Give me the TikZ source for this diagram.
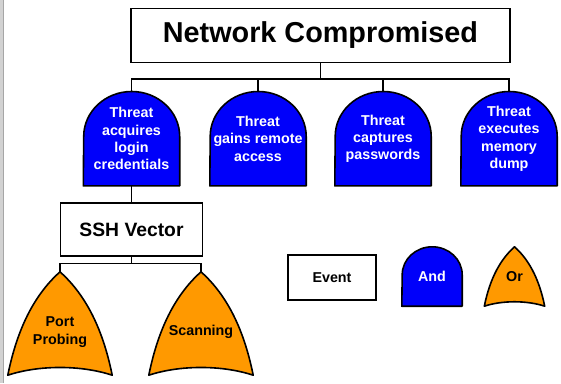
\documentclass[tikz,border=0pt]{standalone}
\usepackage{fontspec}
\setmainfont{Liberation Sans}
\usetikzlibrary{calc,backgrounds}
\definecolor{andblue}{RGB}{0,0,250}
\definecolor{ororange}{RGB}{255,153,0}
\tikzset{
  conn/.style={line width=1.4pt},
  gateline/.style={line width=1.6pt, line join=round},
  eventbox/.style={draw, line width=1.6pt, fill=white, inner sep=0pt, font=\fontsize{14.3}{17.3}\selectfont\bfseries},
  gatetext/.style={inner sep=0pt, align=center, font=\fontsize{14.3}{17.3}\selectfont\bfseries},
  andgate/.style={gatetext, text=white, minimum width=96pt, minimum height=94pt},
  orgate/.style={gatetext, minimum width=104pt, minimum height=103pt},
}
\begin{document}
\begin{tikzpicture}[x=1pt,y=1pt]
\useasboundingbox (0,0) rectangle (561,383);
\fill[gray!35] (0,0) rectangle (3.3,383);
\draw[gray!70, line width=0.7pt] (3.6,0) -- (3.6,383);

\node[eventbox, minimum width=379pt, minimum height=54pt, font=\fontsize{28.8}{32}\selectfont\bfseries] (top) at (320.5,347.5) {Network Compromised};
\node[andgate] (g1) at (131.5,244.3) {Threat\\acquires\\login\\credentials};
\node[andgate] (g2) at (258,244.3) {Threat\\gains remote\\access};
\node[andgate] (g3) at (383,244.3) {Threat\\captures\\passwords};
\node[andgate] (g4) at (509,244.3) {Threat\\executes\\memory\\dump};
\node[eventbox, minimum width=142pt, minimum height=53pt, font=\fontsize{19.3}{23}\selectfont\bfseries] (ssh) at (131.5,153.5) {SSH Vector};
\node[orgate] (p1) at (60,59.5) {};
\node[orgate] (p2) at (201,59.5) {};
\node[gatetext] (p1txt) at (60,51) {Port\\Probing};
\node[gatetext] (p2txt) at (201,51) {Scanning};

\node[eventbox, minimum width=88pt, minimum height=45pt] (legevent) at (332,105.5) {Event};
\node[andgate, minimum width=60pt, minimum height=59pt] (legand) at (432,106.5) {And};
\node[orgate, minimum width=60pt, minimum height=59pt] (legor) at (514.5,106.5) {Or};

\coordinate (bar1) at ([yshift=-15.6]top.south);
\foreach \g in {g1,g2,g3,g4} \draw[conn] (top.south) -- (bar1) -| (\g.north);
\draw[conn] (g1.south) -- (ssh.north);
\coordinate (bar2) at ([yshift=-6.7]ssh.south);
\foreach \g in {p1,p2} \draw[conn] (ssh.south) -- (bar2) -| (\g.north);

\begin{scope}[on background layer]
\foreach \n/\rx/\ry in {g1/48/45,g2/48/45,g3/48/45,g4/48/45,legand/30/28}
  \draw[gateline, fill=andblue] (\n.south west) -- (\n.south east) -- ([yshift=-\ry]\n.north east)
    arc[start angle=0, end angle=180, x radius=\rx, y radius=\ry] -- cycle;
\foreach \n/\w/\h in {p1/104/103,p2/104/103,legor/60/59}
  \draw[gateline, fill=ororange] (\n.south west) .. controls +({0.1*\w},{0.5*\h}) and +({-0.22*\w},{-0.2*\h}) .. (\n.north)
    .. controls +({0.22*\w},{-0.2*\h}) and +({-0.1*\w},{0.5*\h}) .. (\n.south east)
    .. controls +({-0.3*\w},{0.1*\h}) and +({0.3*\w},{0.1*\h}) .. (\n.south west) -- cycle;
\end{scope}
\end{tikzpicture}
\end{document}
